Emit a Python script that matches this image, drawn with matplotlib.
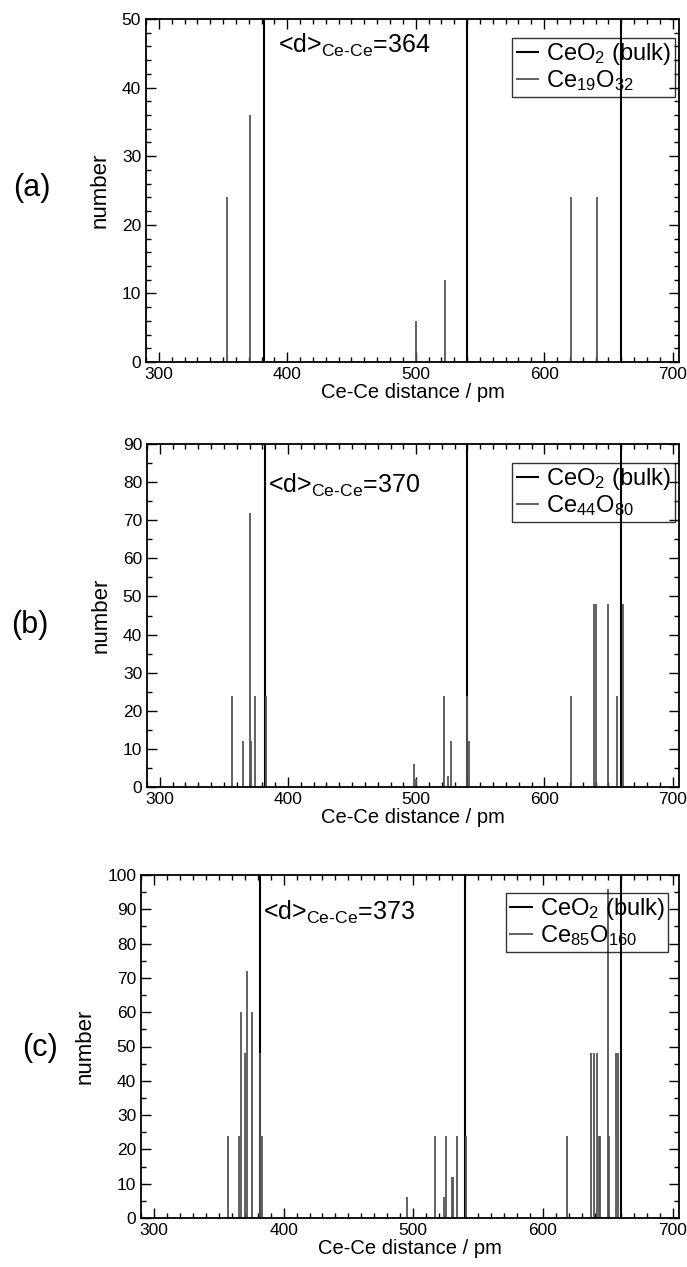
import numpy as np
import matplotlib
matplotlib.use('Agg')
import matplotlib.pyplot as plt
from matplotlib.ticker import MultipleLocator

plt.rcParams['font.family'] = ['Liberation Sans', 'DejaVu Sans']
plt.rcParams['mathtext.fontset'] = 'custom'
plt.rcParams['mathtext.rm'] = 'Liberation Sans'
plt.rcParams['mathtext.it'] = 'Liberation Sans'

# bulk CeO2 Ce-Ce shells (pm), drawn up to the top of each panel
bulk_x = [382, 540, 660]

# (a) Ce19O32
a_x = [353, 371, 500, 523, 621, 641]
a_n = [24, 36, 6, 12, 24, 24]

# (b) Ce44O80
b_x = [356, 365, 370, 371.5, 374, 383, 498, 500, 521.5, 524.5, 527.5,
       540, 541.5, 621, 639, 640, 649.5, 656.5, 661]
b_n = [24, 12, 72, 12, 24, 24, 6, 2, 24, 3, 12,
       24, 12, 24, 48, 48, 48, 24, 48]

# (c) Ce85O160
c_x = [357, 365.5, 367.5, 370.5, 372, 376, 382, 383.5, 495.5, 517, 524,
       525, 530, 530.6, 534, 541, 618.5, 637.5, 639.3, 642, 643.5, 644.2,
       650.2, 650.8, 656.6, 657.6]
c_n = [24, 24, 60, 48, 72, 60, 48, 24, 6, 24, 6,
       24, 12, 12, 24, 24, 24, 48, 48, 48, 24, 24,
       96, 24, 48, 48]

panels = [
    ('(a)', a_x, a_n, r'Ce$_{19}$O$_{32}$', '364', 50, 2),
    ('(b)', b_x, b_n, r'Ce$_{44}$O$_{80}$', '370', 90, 5),
    ('(c)', c_x, c_n, r'Ce$_{85}$O$_{160}$', '373', 100, 5),
]

W, H = 687, 1267
fig = plt.figure(figsize=(W / 100, H / 100), dpi=100)

# axes boxes in pixels: left, right, top, bottom
boxes = [(146, 679, 19, 362), (147, 679, 444, 787), (141, 679, 875, 1218)]
text_pos = [(0.248, 0.924), (0.227, 0.88), (0.227, 0.89)]
leg_pos = [(0.992, 0.945), (0.992, 0.945), (0.98, 0.948)]
lab_pos = [(32, 188), (30, 625), (40, 1048)]

for i, (lab, xs, ns, name, dmean, ymax, yminor) in enumerate(panels):
    l, r, t, b = boxes[i]
    ax = fig.add_axes([l / W, 1 - b / H, (r - l) / W, (b - t) / H])

    ax.vlines(bulk_x, 0, ymax * 1.02, colors='black', lw=1.5, label='CeO$_2$ (bulk)')
    ax.vlines(xs, 0, ns, colors='#555555', lw=1.3, label=name)

    ax.set_xlim(290, 705)
    ax.set_ylim(0, ymax)
    ax.xaxis.set_major_locator(MultipleLocator(100))
    ax.xaxis.set_minor_locator(MultipleLocator(10))
    ax.yaxis.set_major_locator(MultipleLocator(10))
    ax.yaxis.set_minor_locator(MultipleLocator(yminor))
    ax.tick_params(which='both', direction='in', top=True, right=True,
                   labelsize=12.5, width=1)
    ax.tick_params(which='major', length=7)
    ax.tick_params(which='minor', length=3.5)
    for s in ax.spines.values():
        s.set_linewidth(1.3)

    ax.set_xlabel('Ce-Ce distance / pm', fontsize=14.5, labelpad=1)
    ax.set_ylabel('number', fontsize=16, labelpad=8)

    ax.text(text_pos[i][0], text_pos[i][1],
            r'<d>$_{\mathregular{Ce\text{-}Ce}}$=' + dmean,
            transform=ax.transAxes, fontsize=18, va='center', ha='left')

    leg = ax.legend(loc='upper right', bbox_to_anchor=leg_pos[i], borderaxespad=0,
                    fontsize=17, handlelength=1.0, handletextpad=0.3,
                    labelspacing=0.05, borderpad=0.15, fancybox=False,
                    edgecolor='black')
    leg.get_frame().set_facecolor('none')
    leg.get_frame().set_linewidth(1.0)

    fig.text(lab_pos[i][0] / W, 1 - lab_pos[i][1] / H, lab,
             fontsize=22, ha='center', va='center')

fig.savefig('out.png', dpi=100)
